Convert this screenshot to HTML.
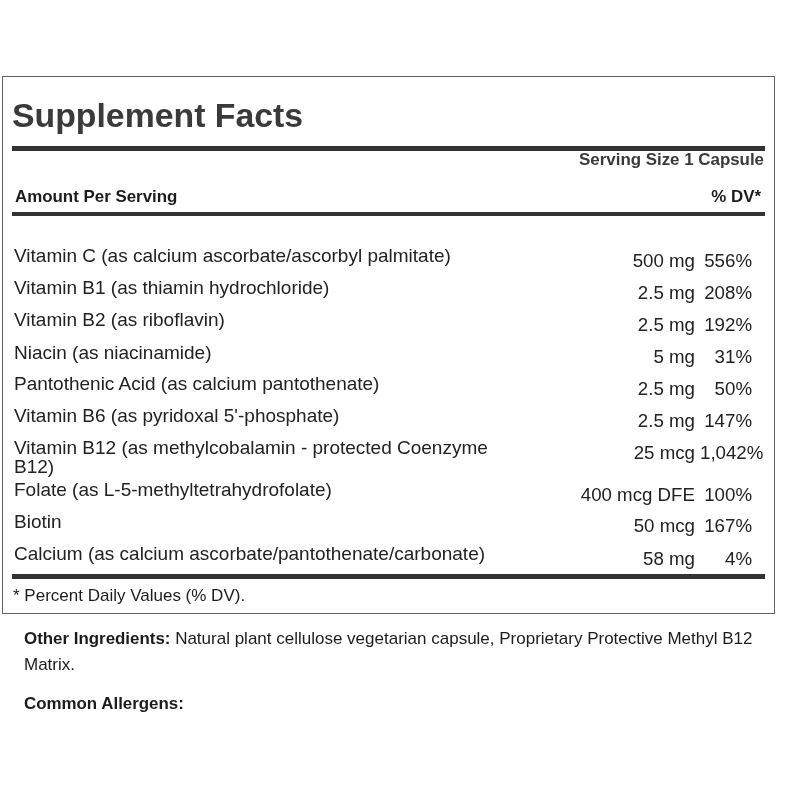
<!DOCTYPE html>
<html><head><meta charset="utf-8"><style>
html,body{margin:0;padding:0;background:#fff;width:800px;height:800px;overflow:hidden;}
body{position:relative;font-family:"Liberation Sans",sans-serif;}
div{position:absolute;white-space:nowrap;}
#w{left:0;top:0;width:800px;height:800px;will-change:transform;}
.box{left:2px;top:76px;width:771px;height:536px;border:1px solid #636363;}
.bar{background:#333;}
.n{font-size:19px;line-height:19px;color:#222;}
.r{text-align:right;}
.v{font-size:18.7px;}
.title{left:12px;top:95px;font-size:33.8px;line-height:40px;font-weight:bold;color:#3a3a3a;}
.hb{font-size:16.9px;line-height:19px;font-weight:bold;}
.fn{left:13px;top:586px;font-size:17px;line-height:19px;color:#1c1c1c;}
.oi{left:24px;font-size:17px;line-height:19px;color:#1c1c1c;}
.oi b{font-size:16.9px;}
</style></head><body>
<div id="w">
<div class="box"></div>
<div class="title">Supplement Facts</div>
<div class="bar" style="left:12px;top:146px;width:753px;height:5px"></div>
<div class="hb" style="right:36px;top:150px;color:#3a3a3a">Serving Size 1 Capsule</div>
<div class="hb" style="left:15px;top:187px;color:#1c1c1c">Amount Per Serving</div>
<div class="hb" style="right:39px;top:187px;color:#1c1c1c">% DV*</div>
<div class="bar" style="left:12px;top:212px;width:753px;height:4px"></div>
<div class="n" style="left:14px;top:246px">Vitamin C (as calcium ascorbate/ascorbyl palmitate)</div>
<div class="n v r" style="right:105px;top:251px">500 mg</div>
<div class="n v r" style="right:48px;top:251px">556%</div>
<div class="n" style="left:14px;top:278px">Vitamin B1 (as thiamin hydrochloride)</div>
<div class="n v r" style="right:105px;top:283px">2.5 mg</div>
<div class="n v r" style="right:48px;top:283px">208%</div>
<div class="n" style="left:14px;top:310px">Vitamin B2 (as riboflavin)</div>
<div class="n v r" style="right:105px;top:315px">2.5 mg</div>
<div class="n v r" style="right:48px;top:315px">192%</div>
<div class="n" style="left:14px;top:343px">Niacin (as niacinamide)</div>
<div class="n v r" style="right:105px;top:347px">5 mg</div>
<div class="n v r" style="right:48px;top:347px">31%</div>
<div class="n" style="left:14px;top:374px">Pantothenic Acid (as calcium pantothenate)</div>
<div class="n v r" style="right:105px;top:379px">2.5 mg</div>
<div class="n v r" style="right:48px;top:379px">50%</div>
<div class="n" style="left:14px;top:406px">Vitamin B6 (as pyridoxal 5'-phosphate)</div>
<div class="n v r" style="right:105px;top:411px">2.5 mg</div>
<div class="n v r" style="right:48px;top:411px">147%</div>
<div class="n" style="left:14px;top:438px">Vitamin B12 (as methylcobalamin - protected Coenzyme</div>
<div class="n" style="left:14px;top:457px">B12)</div>
<div class="n v r" style="right:105px;top:443px">25 mcg</div>
<div class="n v" style="left:700px;top:443px">1,042%</div>
<div class="n" style="left:14px;top:480px">Folate (as L-5-methyltetrahydrofolate)</div>
<div class="n v r" style="right:105px;top:485px">400 mcg DFE</div>
<div class="n v r" style="right:48px;top:485px">100%</div>
<div class="n" style="left:14px;top:512px">Biotin</div>
<div class="n v r" style="right:105px;top:516px">50 mcg</div>
<div class="n v r" style="right:48px;top:516px">167%</div>
<div class="n" style="left:14px;top:544px">Calcium (as calcium ascorbate/pantothenate/carbonate)</div>
<div class="n v r" style="right:105px;top:549px">58 mg</div>
<div class="n v r" style="right:48px;top:549px">4%</div>
<div class="bar" style="left:12px;top:574px;width:753px;height:5px"></div>
<div class="fn">* Percent Daily Values (% DV).</div>
<div class="oi" style="top:629px"><b>Other Ingredients:</b> Natural plant cellulose vegetarian capsule, Proprietary Protective Methyl B12</div>
<div class="oi" style="top:655px">Matrix.</div>
<div class="oi" style="top:694px"><b>Common Allergens:</b></div>
</div>
</body></html>
